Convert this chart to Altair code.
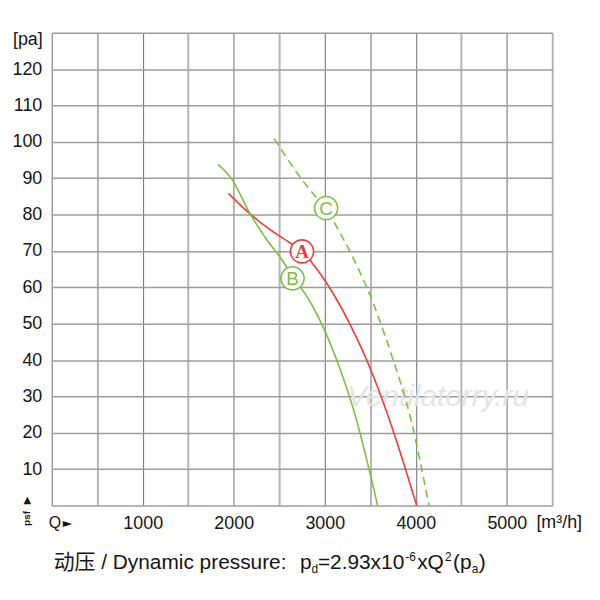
import altair as alt
import pandas as pd

# ---- data ----
A_q = [1943, 2180, 2415, 2634, 2750, 2853, 3071, 3290, 3490, 3708, 4010]
A_p = [85.8, 80.2, 75.6, 72.0, 69.9, 67.0, 59.2, 49.2, 38.3, 23.8, 0.0]

B_q = [1827, 1980, 2180, 2344, 2580, 2646, 2744, 2980, 3144, 3326, 3581]
B_p = [93.8, 89.7, 80.2, 73.8, 65.6, 62.5, 59.7, 49.2, 39.2, 25.6, 0.0]

C_q = [2445, 2707, 2908, 3015, 3090, 3308, 3490, 3726, 3945, 4145]
C_p = [100.9, 91.1, 84.7, 81.8, 78.5, 68.3, 58.3, 42.0, 23.8, 0.0]

tag_names = ["A", "B", "C"]
tag_q = [2750, 2646, 3015]
tag_p = [69.9, 62.5, 81.8]

x_ticks = list(range(0, 5501, 500))
y_ticks = list(range(0, 131, 10))

RED = "#ef3b36"
GREEN = "#7cc043"
FONT = "Liberation Sans"
TXT = "#151515"

rows = []
for name, qs, ps in (("A", A_q, A_p), ("B", B_q, B_p), ("C", C_q, C_p)):
    for q, p in zip(qs, ps):
        rows.append({"curve": name, "q": q, "p": p})
df = pd.DataFrame(rows)
tags = pd.DataFrame({"curve": tag_names, "q": tag_q, "p": tag_p})

xs = alt.Scale(domain=[0, 5500], nice=False, zero=False)
ys = alt.Scale(domain=[0, 130], nice=False, zero=True)

x_axis = alt.Axis(
    values=x_ticks, title=None, ticks=False, domain=False, grid=True,
    gridColor={"condition": {"test": "datum.value % 1000 === 0", "value": "#7a7a7a"}, "value": "#b4b4b4"},
    gridWidth={"condition": {"test": "datum.value % 1000 === 0", "value": 1.1}, "value": 2},
    labelExpr="datum.value >= 1000 && datum.value <= 5000 && datum.value % 1000 === 0 ? datum.label : ''",
    format="d", labelFont=FONT, labelFontSize=18, labelColor=TXT, labelPadding=9,
    labelOverlap=False, labelFlush=False,
)
y_axis = alt.Axis(
    values=y_ticks, title=None, ticks=False, domain=False, grid=True,
    gridColor="#9c9c9c", gridWidth=1.5,
    labelExpr="datum.value >= 10 && datum.value <= 120 ? datum.label : ''",
    format="d", labelFont=FONT, labelFontSize=18, labelColor=TXT, labelPadding=10,
    labelOverlap=False, labelFlush=False,
)

X = alt.X("q:Q", scale=xs, axis=x_axis)
Y = alt.Y("p:Q", scale=ys, axis=y_axis)

base = alt.Chart(df)

solid = base.transform_filter("datum.curve !== 'C'").mark_line(
    interpolate="monotone", strokeWidth=1.6
).encode(
    x=X, y=Y,
    color=alt.Color("curve:N", scale=alt.Scale(domain=["A", "B"], range=[RED, GREEN]), legend=None),
    detail="curve:N",
)

dashed = base.transform_filter("datum.curve === 'C'").mark_line(
    interpolate="monotone", strokeWidth=1.6, strokeDash=[8, 5], color=GREEN
).encode(x=X, y=Y)

circles = alt.Chart(tags).mark_point(
    shape="circle", size=540, filled=True, fill="white", strokeWidth=1.6, opacity=1
).encode(
    x=X, y=Y,
    stroke=alt.Stroke("curve:N", scale=alt.Scale(domain=["A", "B", "C"], range=[RED, GREEN, GREEN]), legend=None),
)

letter_a = alt.Chart(tags).transform_filter("datum.curve === 'A'").mark_text(
    font="Liberation Serif", fontSize=19, fontWeight="bold", color=RED, baseline="middle", dy=1
).encode(x=X, y=Y, text="curve:N")

letters_bc = alt.Chart(tags).transform_filter("datum.curve !== 'A'").mark_text(
    font=FONT, fontSize=19, color=GREEN, baseline="middle", dy=1
).encode(x=X, y=Y, text="curve:N")

OX, OY = 52, 31


def label(text, x, y, size=18, align="left", baseline="alphabetic", font=FONT,
          color=TXT, angle=0, weight="normal", italic=False):
    kw = dict(align=align, baseline=baseline, fontSize=size, font=font,
              color=color, fontWeight=weight)
    if angle:
        kw["angle"] = angle
    if italic:
        kw["fontStyle"] = "italic"
    return alt.Chart(pd.DataFrame({"t": [text]})).mark_text(**kw).encode(
        x=alt.value(x - OX), y=alt.value(y - OY), text="t:N"
    )


watermark = label("Ventilatorry.ru", 441, 398, size=30, align="center", baseline="middle",
                  color="#e4e4e4", italic=True)

texts = [
    label("[pa]", 43, 38.5, align="right", baseline="middle"),
    label("[m³/h]", 540, 525, baseline="middle"),
    label("Q", 49, 525, size=16, baseline="middle"),
    label("►", 63, 525, size=12, baseline="middle", font="DejaVu Sans"),
    label("▲", 27.5, 501, size=10, align="center", baseline="middle", font="DejaVu Sans"),
    label("psf", 27, 520, size=10, align="center", baseline="middle", angle=270, weight="bold"),
    label("动压 / Dynamic pressure:", 54, 571, size=21, font="Liberation Sans, Noto Sans CJK SC"),
    label("p", 302, 571, size=21),
    label("d", 313.5, 575, size=12),
    label("=2.93x10", 320, 571, size=21),
    label("-6", 408, 563, size=12),
    label("xQ", 420, 571, size=21),
    label("2", 448, 563, size=12),
    label("(p", 456, 571, size=21),
    label("a", 475, 575, size=12),
    label(")", 482, 571, size=21),
]

chart = alt.layer(watermark, solid, dashed, circles, letter_a, letters_bc, *texts).properties(
    width=504, height=476,
    autosize=alt.AutoSizeParams(type="none"),
    padding={"left": 44, "top": 23, "right": 40, "bottom": 80},
    background="white",
).configure_view(stroke=None)

chart.save("out.html", embed_options={"renderer": "svg", "actions": False})
